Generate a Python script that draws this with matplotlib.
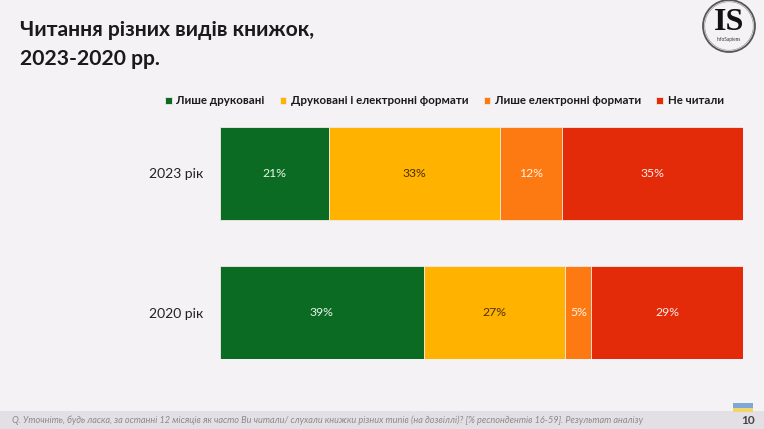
import matplotlib
matplotlib.use("Agg")
import matplotlib.pyplot as plt
from matplotlib.patches import Circle, Rectangle

# data
YEARS = ["2023 рік", "2020 рік"]
CATEGORIES = ["Лише друковані", "Друковані і електронні формати",
              "Лише електронні формати", "Не читали"]
PRINT_ONLY = [21, 39]
PRINT_AND_E = [33, 27]
E_ONLY = [12, 5]
NOT_READ = [35, 29]

TITLE = "Читання різних видів книжок,\n2023-2020 рр."
FOOTNOTE = ("Q. Уточніть, будь ласка, за останні 12 місяців як часто Ви читали/ слухали "
            "книжки різних типів (на дозвіллі)? [% респондентів 16-59]. Результат аналізу")
PAGE = "10"

COLORS = ["#0B6B23", "#FFB300", "#FD7A12", "#E32B09"]
LABEL_COLORS = ["#E8F5E8", "#4A3300", "#FFF4EA", "#FFEDE8"]
BG = "#F5F2F5"
FONT = ["Lato", "DejaVu Sans"]

plt.rcParams["font.family"] = FONT

fig = plt.figure(figsize=(7.64, 4.29), dpi=100, facecolor=BG)
W, H = 764, 429

# title
fig.text(20 / W, 1 - 20 / H, TITLE, ha="left", va="top", fontsize=15.2,
         fontweight="bold", color="#1A1A1A", linespacing=1.55)

# logo
la = fig.add_axes([700 / W, 1 - 54 / H, 58 / W, 54 / H])
la.set_xlim(0, 58)
la.set_ylim(0, 54)
la.set_aspect("equal")
la.axis("off")
la.add_patch(Circle((29, 28), 26, fill=False, ec="#555555", lw=1.3))
la.add_patch(Circle((29, 28), 24.3, fill=False, ec="#9A9A9A", lw=0.5))
la.text(29, 32, "IS", ha="center", va="center", fontsize=23, family="Liberation Serif",
        fontweight="bold", color="#111111")
la.text(29, 14, "InfoSapiens", ha="center", va="center", fontsize=3.4, color="#333333")

# bars
ax = fig.add_axes([219.7 / W, (H - 359) / H, 523.6 / W, 232 / H])
ax.set_facecolor(BG)
series = [PRINT_ONLY, PRINT_AND_E, E_ONLY, NOT_READ]
totals = [sum(s[i] for s in series) for i in range(len(YEARS))]
ypos = list(range(len(YEARS)))
left = [0.0] * len(YEARS)
for vals, col, tcol, name in zip(series, COLORS, LABEL_COLORS, CATEGORIES):
    widths = [v / t for v, t in zip(vals, totals)]
    ax.barh(ypos, widths, left=left, height=0.664, color=col, edgecolor="#F2E9E6",
            linewidth=0.6, label=name)
    for y, l, w, v in zip(ypos, left, widths, vals):
        ax.text(l + w / 2, y, f"{v}%", ha="center", va="center", fontsize=8.8,
                color=tcol)
    left = [l + w for l, w in zip(left, widths)]

ax.set_xlim(0, 1)
ax.set_ylim(len(YEARS) - 1 + 0.332, -0.332)
ax.set_yticks(ypos)
ax.set_yticklabels(YEARS, fontsize=10, color="#222222")
ax.tick_params(axis="y", length=0, pad=12)
ax.set_xticks([])
for s in ax.spines.values():
    s.set_visible(False)

# legend
leg = fig.legend(loc="center left", bbox_to_anchor=(160 / W, 1 - 101 / H), ncol=4,
                 frameon=False, fontsize=8.3, handlelength=0.6, handleheight=0.6,
                 handletextpad=0.4, columnspacing=1.3, borderaxespad=0)
for t in leg.get_texts():
    t.set_fontweight("bold")
    t.set_color("#1A1A1A")

# footer band
fig.patches.append(Rectangle((0, 0), 1, 18 / H, transform=fig.transFigure,
                             facecolor="#E2E0E4", edgecolor="none", zorder=0))
fig.text(12 / W, 8.5 / H, FOOTNOTE, ha="left", va="center", fontsize=6.6,
         style="italic", color="#8A8A8A")
fig.text(755 / W, 8.5 / H, PAGE, ha="right", va="center", fontsize=8.5,
         fontweight="bold", color="#444444")
# small flag badge above the page number
fig.patches.append(Rectangle((733 / W, (H - 408) / H), 20 / W, 5 / H,
                             transform=fig.transFigure, facecolor="#7FA8D8",
                             edgecolor="none"))
fig.patches.append(Rectangle((733 / W, (H - 412) / H), 20 / W, 4 / H,
                             transform=fig.transFigure, facecolor="#F3D66A",
                             edgecolor="none"))

fig.savefig("out.png", dpi=100, facecolor=BG)
